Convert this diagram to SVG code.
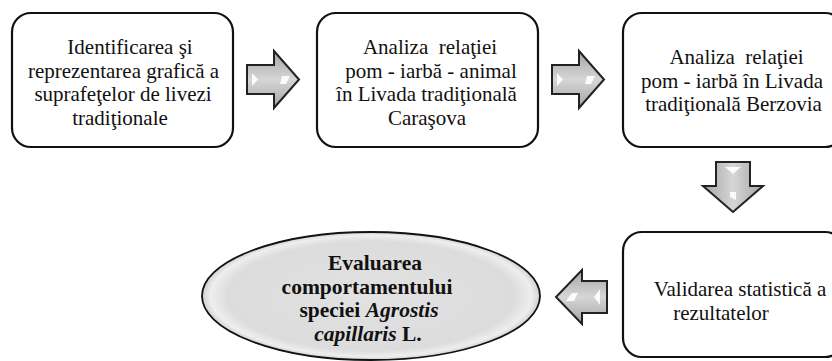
<svg xmlns="http://www.w3.org/2000/svg" width="832" height="361" viewBox="0 0 832 361">
<defs>
<style>
.box{fill:#ffffff;stroke:#111;stroke-width:2.2}
.t{font-family:"Liberation Serif","Times New Roman",serif;font-size:21px;fill:#111;text-anchor:middle}
.tb{font-family:"Liberation Serif","Times New Roman",serif;font-size:21.5px;font-weight:bold;fill:#111;text-anchor:middle}
.arr{stroke:#222;stroke-width:2;stroke-linejoin:miter}
.hl{fill:#ffffff;opacity:0.9}
</style>
<linearGradient id="gH" x1="0" y1="0" x2="0" y2="1">
<stop offset="0" stop-color="#a4a4a4"/>
<stop offset="0.5" stop-color="#d6d6d6"/>
<stop offset="1" stop-color="#a4a4a4"/>
</linearGradient>
<linearGradient id="gV" x1="0" y1="0" x2="1" y2="0">
<stop offset="0" stop-color="#a4a4a4"/>
<stop offset="0.5" stop-color="#d6d6d6"/>
<stop offset="1" stop-color="#a4a4a4"/>
</linearGradient>
<radialGradient id="gE" cx="0.5" cy="0.5" r="0.5">
<stop offset="0" stop-color="#e2e2e2"/>
<stop offset="0.85" stop-color="#dcdcdc"/>
<stop offset="0.95" stop-color="#eeeeee"/>
<stop offset="1" stop-color="#d0d0d0"/>
</radialGradient>
</defs>

<g id="connectors">
<g id="arrow1">
<path class="arr" fill="url(#gH)" d="M247,65 L274,65 L274,51 L299,79.5 L274,108 L274,94 L247,94 Z"/>
<path class="hl" d="M252,73 L258,79.5 L252,86 Z"/>
<path class="hl" d="M282,76 L290,76 L286,84 L280,84 Z"/>
</g>
<g id="arrow2">
<path class="arr" fill="url(#gH)" d="M552,65 L579,65 L579,51 L604,79.5 L579,108 L579,94 L552,94 Z"/>
<path class="hl" d="M557,73 L563,79.5 L557,86 Z"/>
<path class="hl" d="M587,76 L595,76 L591,84 L585,84 Z"/>
</g>
<g id="arrow3">
<path class="arr" fill="url(#gV)" d="M716,162 L750,162 L750,186 L763,186 L733,212 L703,186 L716,186 Z"/>
<path class="hl" d="M725,167 L741,167 L733,174 Z"/>
<path class="hl" d="M730,192 L736,192 L736,200 L730,197 Z"/>
</g>
<g id="arrow4">
<path class="arr" fill="url(#gH)" d="M607,281 L582,281 L582,270 L556,297 L582,324 L582,313 L607,313 Z"/>
<path class="hl" d="M600,289 L594,297 L600,305 Z"/>
<path class="hl" d="M572,293 L578,293 L574,301 L566,301 Z"/>
</g>
</g>

<g id="node1">
<rect class="box" x="12" y="13" width="221" height="134" rx="19"/>
<text class="t" x="130" y="54">Identificarea şi</text>
<text class="t" x="123.5" y="77.5">reprezentarea grafică a</text>
<text class="t" x="123" y="101">suprafeţelor de livezi</text>
<text class="t" x="120" y="124.5">tradiţionale</text>
</g>

<g id="node2">
<rect class="box" x="317" y="13" width="221" height="134" rx="19"/>
<text class="t" x="430" y="54" xml:space="preserve">Analiza  relaţiei</text>
<text class="t" x="431" y="77.5">pom - iarbă - animal</text>
<text class="t" x="426.5" y="101">în Livada tradiţională</text>
<text class="t" x="427" y="124.5">Caraşova</text>
</g>

<g id="node3">
<rect class="box" x="623" y="13" width="221" height="134" rx="19"/>
<text class="t" x="736.5" y="64" xml:space="preserve">Analiza  relaţiei</text>
<text class="t" x="732" y="87.5">pom - iarbă în Livada</text>
<text class="t" x="733.5" y="111">tradiţională Berzovia</text>
</g>

<g id="node4">
<rect class="box" x="623" y="232" width="221" height="125" rx="19"/>
<text class="t" x="740" y="296">Validarea statistică a</text>
<text class="t" x="721" y="320">rezultatelor</text>
</g>

<g id="node5">
<ellipse cx="371" cy="296" rx="169" ry="64" fill="url(#gE)" stroke="#111" stroke-width="1.8"/>
<text class="tb" x="375" y="270">Evaluarea</text>
<text class="tb" x="367" y="293.5">comportamentului</text>
<text class="tb" x="369" y="317">speciei <tspan font-style="italic">Agrostis</tspan></text>
<text class="tb" x="368" y="340.5"><tspan font-style="italic">capillaris</tspan> L.</text>
</g>
</svg>
